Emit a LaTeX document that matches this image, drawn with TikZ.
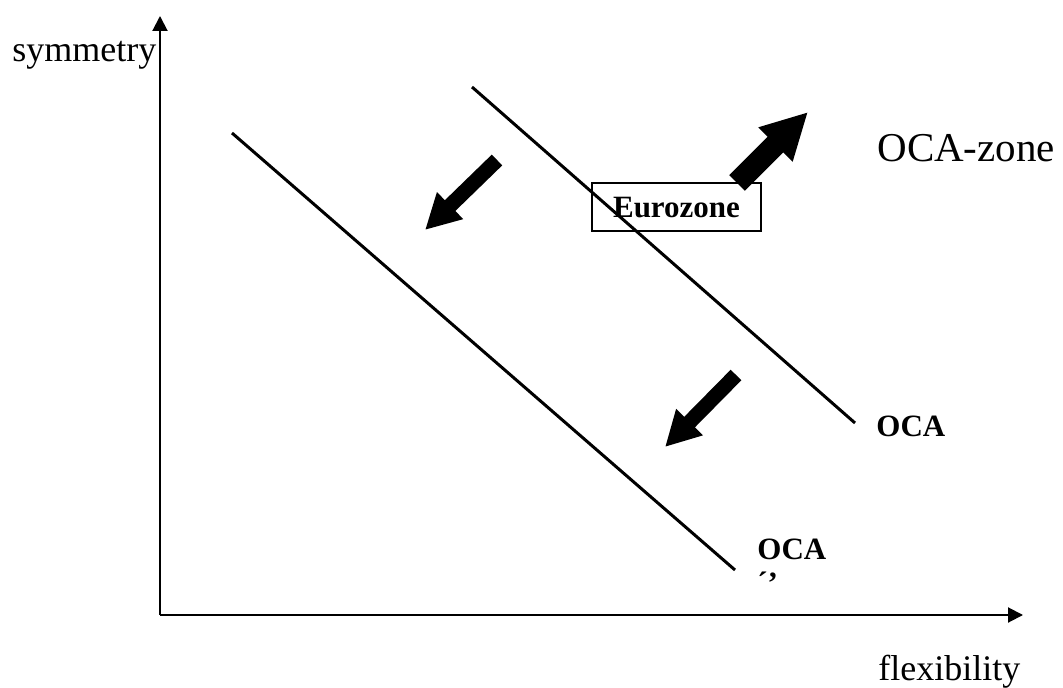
\documentclass[tikz,border=0pt]{standalone}
\usepackage{fontspec}
\setmainfont{Liberation Serif}
\usepackage{tikz}
\usetikzlibrary{arrows.meta, positioning}

\begin{document}
\begin{tikzpicture}[
    x=0.5pt, y=-0.5pt,
    axis_style/.style={line width=1pt, -{Triangle[length=7.5pt,width=7.5pt]}},
    oca_line/.style={line width=1.5pt},
    fat_arrow/.style={line width=7.5pt,
      -{Triangle[length=17.5pt,width=17.5pt]}},
    big_arrow/.style={line width=11pt,
      -{Triangle[length=23pt,width=22.5pt]}},
    label_style/.style={font=\fontsize{18}{20}\selectfont, inner sep=0pt},
    oca_style/.style={font=\fontsize{15.5}{17}\selectfont\bfseries, inner sep=0pt}
]
    \useasboundingbox (0,0) rectangle (1063,688);

    % --- Axes ---
    \coordinate (origin) at (160,615);
    \coordinate (ytop) at (160,16);
    \coordinate (xend) at (1023,615);
    \draw[axis_style] (origin) -- (ytop);
    \draw[axis_style] (origin) -- (xend);
    \node[label_style, anchor=base west] (ylab) at (12,62) {symmetry};
    \node[label_style, anchor=base west] (xlab) at (878,680) {flexibility};

    % --- OCA-Linien ---
    \coordinate (oca1a) at (472,87);
    \coordinate (oca1b) at (855,423);
    \coordinate (oca2a) at (232,133);
    \coordinate (oca2b) at (735,570);
    \draw[oca_line] (oca1a) -- (oca1b);
    \draw[oca_line] (oca2a) -- (oca2b);
    \node[oca_style, anchor=base west] (oca1) at (876,437) {OCA};
    \node[oca_style, anchor=base west] (oca2) at (757,559) {OCA};
    \node[oca_style, below=6pt of oca2.south west,
          anchor=north west] (oca2p) {´’};

    % --- Eurozone ---
    \node[oca_style, draw, line width=0.75pt, minimum width=84.5pt,
          minimum height=24pt, text height=11pt] (euro) at (676.5,207) {Eurozone};
    \node[font=\fontsize{20.5}{22}\selectfont, inner sep=0pt,
          anchor=base west] (zone) at (877,162) {OCA-zone};

    % --- Pfeile ---
    \coordinate (a1s) at (497,160);
    \coordinate (a1e) at (425,230);
    \coordinate (a2s) at (736,375);
    \coordinate (a2e) at (665,447);
    \coordinate (a3s) at (737,183);
    \coordinate (a3e) at (808,112);
    \draw[fat_arrow] (a1s) -- (a1e);
    \draw[fat_arrow] (a2s) -- (a2e);
    \draw[big_arrow] (a3s) -- (a3e);

\end{tikzpicture}
\end{document}
